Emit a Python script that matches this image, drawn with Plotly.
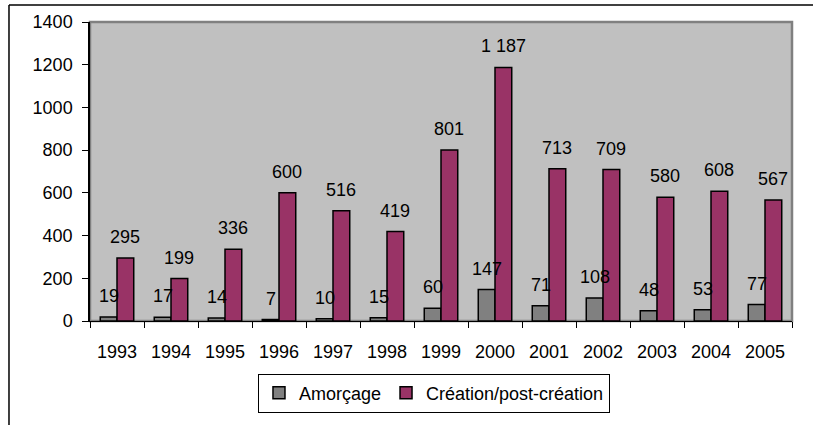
import plotly.graph_objects as go

# data
annees = ["1993", "1994", "1995", "1996", "1997", "1998", "1999",
          "2000", "2001", "2002", "2003", "2004", "2005"]
amorcage = [19, 17, 14, 7, 10, 15, 60, 147, 71, 108, 48, 53, 77]
creation = [295, 199, 336, 600, 516, 419, 801, 1187, 713, 709, 580, 608, 567]

police = "Liberation Sans, Arial, sans-serif"


def etiquette(v):
    # thousands separated with a space, french style
    return "{:,}".format(v).replace(",", " ")


fig = go.Figure()
fig.add_trace(go.Bar(x=annees, y=amorcage, name="Amorçage",
                     marker=dict(color="#808080", line=dict(color="black", width=1.5))))
fig.add_trace(go.Bar(x=annees, y=creation, name="Création/post-création",
                     marker=dict(color="#993366", line=dict(color="black", width=1.5))))

# value labels on top of everything (like excel does)
# x given as category index, the axis is a category axis
for serie, decal in [(amorcage, -8), (creation, 8)]:
    for i, v in enumerate(serie):
        fig.add_annotation(x=i, y=v, text=etiquette(v), showarrow=False,
                           xshift=decal, yanchor="bottom", yshift=9,
                           font=dict(size=18, color="black", family=police))

# grey frame of the plot area (top / right)
fig.add_shape(type="rect", xref="paper", yref="paper", x0=0, x1=1, y0=0, y1=1,
              line=dict(color="#808080", width=2.5), layer="below")
# outer chart border (top and left only visible)
fig.add_shape(type="line", xref="paper", yref="paper", x0=-0.1154, x1=1.1,
              y0=1.0565, y1=1.0565, line=dict(color="black", width=1.5))
fig.add_shape(type="line", xref="paper", yref="paper", x0=-0.1154, x1=-0.1154,
              y0=1.0565, y1=-0.4, line=dict(color="black", width=1.5))

fig.update_layout(
    width=813, height=425,
    margin=dict(l=90, r=21, t=22, b=102),
    plot_bgcolor="#C0C0C0", paper_bgcolor="white",
    barmode="group", bargap=0.38, bargroupgap=0,
    font=dict(family=police, size=18, color="black"),
    showlegend=True,
    legend=dict(orientation="h", x=0.49, xanchor="center", y=-0.176, yanchor="top",
                bordercolor="black", borderwidth=1, font=dict(size=18),
                itemwidth=30, tracegroupgap=0),
)
fig.update_xaxes(type="category", showline=True, linecolor="black", linewidth=1,
                 ticks="outside", tickson="boundaries", ticklen=6, tickcolor="black",
                 showgrid=False, tickfont=dict(size=18), ticklabelstandoff=14,
                 range=[-0.5, 12.5])
fig.update_yaxes(range=[0, 1400], dtick=200, showline=True, linecolor="black",
                 linewidth=1.5, ticks="outside", ticklen=6, tickcolor="black",
                 showgrid=False, zeroline=False, tickfont=dict(size=18),
                 ticklabelstandoff=6)

# no body margin so the figure sits exactly in the window
fig.write_html("out.html", config={"displayModeBar": False},
               post_script="document.body.style.margin='0';")
